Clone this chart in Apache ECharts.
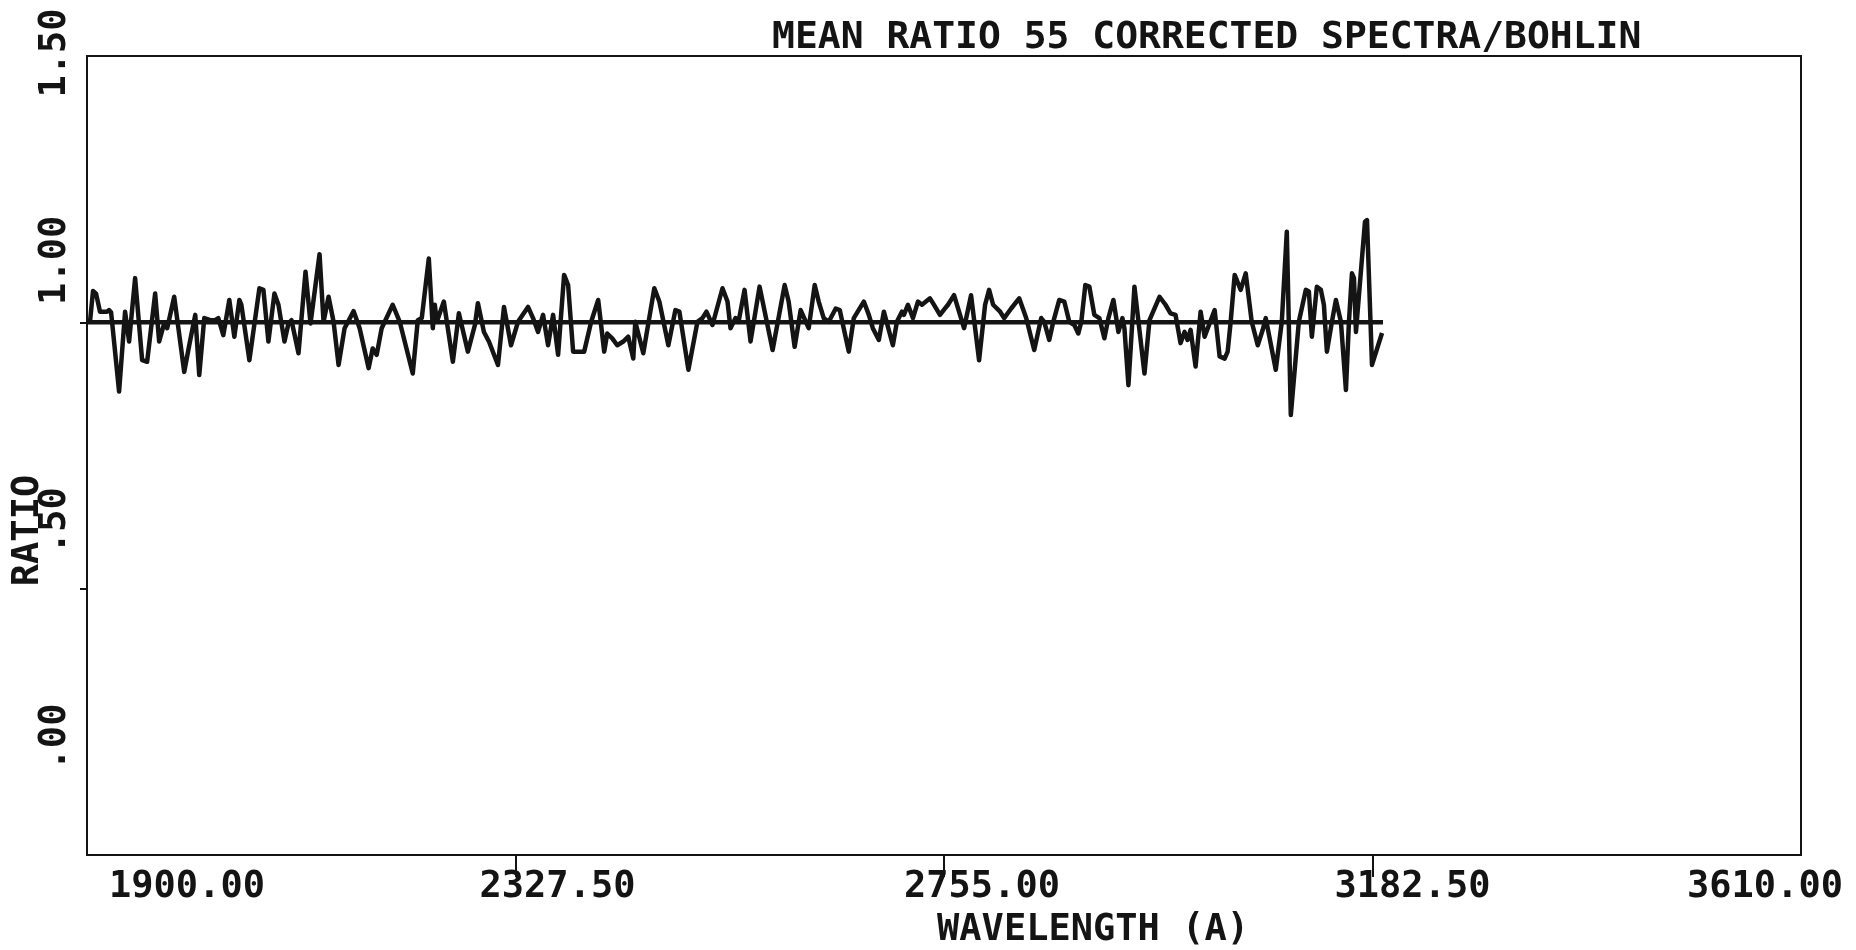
<!DOCTYPE html>
<html>
<head>
<meta charset="utf-8">
<script src="https://cdn.jsdelivr.net/npm/echarts@6/dist/echarts.min.js"></script>
<style>
html,body{margin:0;padding:0;background:#fff;}
#chart{width:1856px;height:950px;}
</style>
</head>
<body>
<div id="chart"></div>
<script>
const titleText = 'MEAN RATIO 55 CORRECTED SPECTRA/BOHLIN';
const xName = 'WAVELENGTH (A)';
const yName = 'RATIO';
const xTickValues = [1900, 2327.5, 2755, 3182.5, 3610];
const xTickLabels = ['1900.00', '2327.50', '2755.00', '3182.50', '3610.00'];
const yTickValues = [0, 0.5, 1.0, 1.5];
const yTickLabels = ['.00', '.50', '1.00', '1.50'];
const referenceLevel = 1.0;
const referenceRange = [1900, 3193];

const wavelengths = [
1903,1906,1909,1913,1920,1922,1924,1925,1932,1938,1942,1948,1955,1960,1968,1972,1977,1980,1987,1997,
2002,2008,2012,2017,2023,2028,2031,2036,2042,2047,2052,2054,2062,2072,2076,2081,2087,2091,2097,2101,
2104,2111,2118,2123,2132,2136,2141,2146,2151,2157,2166,2172,2181,2185,2189,2194,2205,2212,2225,2230,
2234,2241,2245,2247,2249,2256,2265,2271,2280,2287,2290,2296,2301,2310,2316,2323,2330,2340,2345,2350,
2355,2360,2365,2370,2376,2380,2385,2396,2403,2410,2416,2419,2424,2429,2435,2440,2445,2447,2455,2466,
2471,2480,2487,2491,2500,2509,2514,2518,2524,2534,2539,2542,2547,2550,2556,2562,2571,2584,2596,2600,
2606,2612,2620,2626,2630,2635,2640,2647,2651,2660,2665,2675,2680,2684,2690,2695,2704,2708,2713,2715,
2719,2724,2729,2733,2741,2744,2751,2756,2759,2765,2775,2782,2790,2796,2800,2804,2811,2815,2822,2830,
2837,2845,2852,2855,2860,2864,2870,2875,2880,2885,2889,2892,2896,2900,2905,2910,2915,2919,2924,2929,
2933,2935,2939,2945,2955,2960,2970,2976,2981,2986,2991,2995,2998,3001,3006,3011,3015,3025,3030,3035,
3038,3041,3045,3051,3056,3062,3068,3073,3076,3086,3092,3097,3101,3109,3116,3119,3122,3127,3131,3134,
3137,3142,3146,3151,3156,3159,3162,3164,3166,3175,3177,3182,3192
];
const ratios = [
1.001,1.059,1.054,1.020,1.020,1.023,1.019,1.001,0.870,1.020,0.964,1.083,0.929,0.926,1.054,0.964,0.998,0.989,1.048,0.907,
0.957,1.014,0.901,1.008,1.004,1.004,1.008,0.976,1.042,0.973,1.042,1.033,0.929,1.064,1.061,0.964,1.054,1.033,0.964,0.998,
1.004,0.942,1.095,0.998,1.128,1.001,1.048,1.001,0.920,0.989,1.021,0.989,0.914,0.951,0.939,0.989,1.033,1.001,0.904,1.004,
1.008,1.120,0.989,1.033,1.001,1.039,0.926,1.017,0.945,0.995,1.036,0.982,0.964,0.920,1.029,0.957,1.001,1.029,1.008,0.982,
1.014,0.957,1.014,0.939,1.089,1.070,0.945,0.945,1.001,1.042,0.945,0.979,0.970,0.957,0.964,0.973,0.932,1.001,0.942,1.064,
1.039,0.957,1.023,1.020,0.911,1.001,1.008,1.020,0.995,1.064,1.039,0.989,1.008,1.001,1.061,0.964,1.067,0.948,1.070,1.039,
0.954,1.023,0.989,1.070,1.039,1.008,1.001,1.026,1.023,0.945,1.008,1.039,1.014,0.989,0.967,1.020,0.957,1.001,1.020,1.014,
1.033,1.008,1.039,1.033,1.045,1.036,1.014,1.026,1.033,1.051,0.989,1.051,0.929,1.033,1.061,1.033,1.020,1.008,1.026,1.045,
1.008,0.948,1.008,1.001,0.967,1.001,1.042,1.039,1.001,0.995,0.979,1.001,1.070,1.067,1.014,1.008,0.970,1.008,1.042,0.982,
1.008,0.989,0.882,1.067,0.904,1.004,1.048,1.033,1.017,1.014,0.961,0.982,0.967,0.986,0.917,1.020,0.973,1.023,0.936,0.932,
0.945,1.001,1.089,1.061,1.092,1.001,0.957,0.986,1.008,0.911,1.001,1.170,0.826,1.001,1.061,1.058,0.973,1.067,1.061,1.033,
0.945,1.001,1.042,1.001,0.873,1.001,1.092,1.083,0.982,1.189,1.192,0.920,0.980
];

const FONT = 'DejaVu Sans Mono';
const INK = '#141414';

const seriesData = wavelengths.map((w, i) => [w, ratios[i]]);
const refData = referenceRange.map(w => [w, referenceLevel]);

// per-label shifts to mimic the plotter's label placement
const xShift = [100, 42, 38, 40, -36];
const yShift = [118, 68, 62, 3];

function richFor(shifts) {
  const r = {};
  shifts.forEach((s, i) => {
    r['l' + i] = {
      fontFamily: FONT, fontSize: 37, fontWeight: 'bold', color: INK,
      padding: s >= 0 ? [0, 0, 0, 2 * s] : [0, -2 * s, 0, 0]
    };
  });
  return r;
}

const chart = echarts.init(document.getElementById('chart'), null, {renderer: 'canvas'});
chart.setOption({
  backgroundColor: '#ffffff',
  animation: false,
  title: {
    text: titleText,
    left: 767, top: 14,
    textStyle: {fontFamily: FONT, fontSize: 38, fontWeight: 'bold', color: INK}
  },
  grid: {
    left: 87, right: 55, top: 56, bottom: 95,
    show: true, borderColor: INK, borderWidth: 2,
    outerBoundsMode: 'none'
  },
  xAxis: {
    type: 'value',
    min: xTickValues[0], max: xTickValues[xTickValues.length - 1],
    interval: xTickValues[1] - xTickValues[0],
    splitLine: {show: false},
    axisLine: {show: true, lineStyle: {color: INK, width: 2}},
    axisTick: {show: true, length: 22, lineStyle: {color: INK, width: 2},
               customValues: xTickValues.slice(1, -1)},
    axisLabel: {
      margin: 14,
      customValues: xTickValues,
      formatter: v => {
        const i = xTickValues.findIndex(t => Math.abs(t - v) < 1e-6);
        return '{l' + i + '|' + xTickLabels[i] + '}';
      },
      rich: richFor(xShift)
    },
    name: xName,
    nameLocation: 'middle',
    nameGap: 57,
    nameMoveOverlap: false,
    nameTextStyle: {fontFamily: FONT, fontSize: 37, fontWeight: 'bold', color: INK, padding: [0, 0, 0, 298]}
  },
  yAxis: {
    type: 'value',
    min: yTickValues[0], max: yTickValues[yTickValues.length - 1],
    interval: yTickValues[1] - yTickValues[0],
    splitLine: {show: false},
    axisLine: {show: true, lineStyle: {color: INK, width: 2}},
    axisTick: {show: true, length: 7, lineStyle: {color: INK, width: 2},
               customValues: yTickValues.slice(1, -1)},
    axisLabel: {
      rotate: 90,
      margin: 13,
      customValues: yTickValues,
      formatter: v => {
        const i = yTickValues.findIndex(t => Math.abs(t - v) < 1e-6);
        return '{l' + i + '|' + yTickLabels[i] + '}';
      },
      rich: richFor(yShift)
    },
    name: yName,
    nameLocation: 'middle',
    nameRotate: 90,
    nameGap: 40,
    nameMoveOverlap: false,
    nameTextStyle: {fontFamily: FONT, fontSize: 37, fontWeight: 'bold', color: INK, padding: [0, 150, 0, 0]}
  },
  series: [
    {
      type: 'line', data: refData, showSymbol: false, silent: true,
      lineStyle: {color: INK, width: 4.5}
    },
    {
      type: 'line', data: seriesData, showSymbol: false, silent: true,
      lineStyle: {color: INK, width: 4.5, join: 'round'}
    }
  ]
});
</script>
</body>
</html>
